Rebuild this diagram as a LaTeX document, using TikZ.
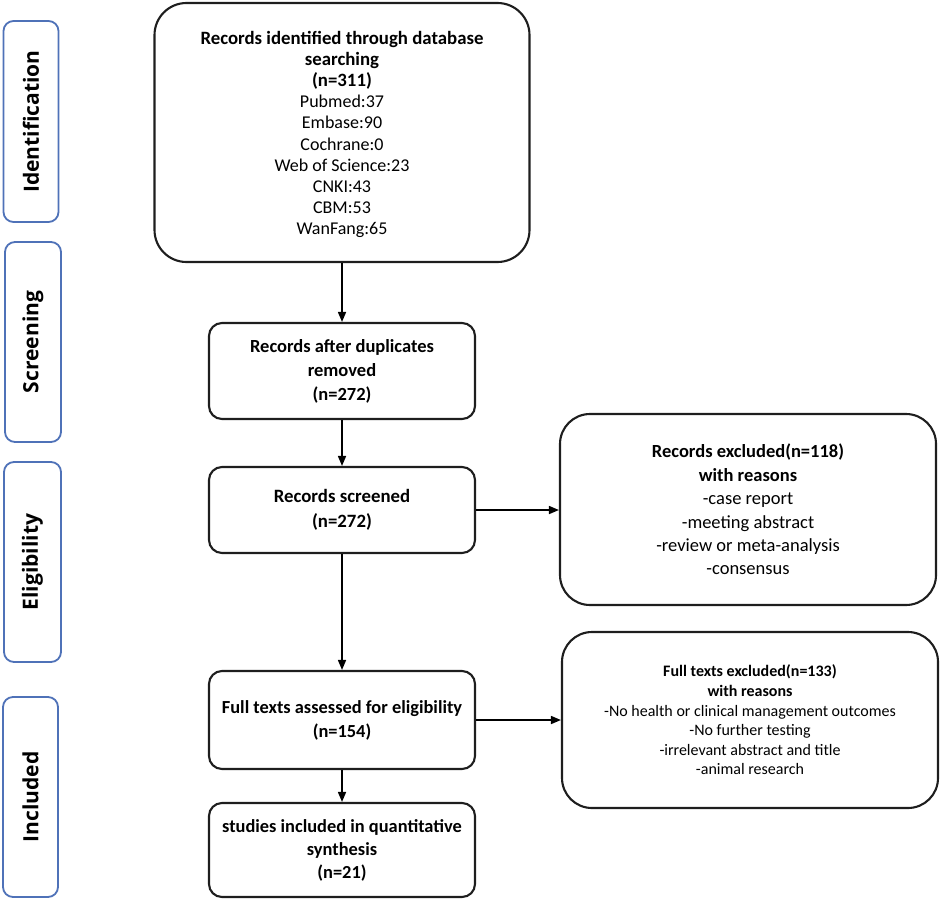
\documentclass[tikz,border=0pt]{standalone}
\usepackage{fontspec}
\setmainfont{Carlito}
\newfontfamily\phasefont{Open Sans}
\usetikzlibrary{arrows.meta}
\definecolor{phaseblue}{HTML}{4F72B8}
\definecolor{boxline}{HTML}{1E1E1E}
\tikzset{
  phasebox/.style={draw=phaseblue, line width=1.8pt, rounded corners=10pt, minimum width=#1, inner sep=0pt},
  phasetext/.style={font={\phasefont\bfseries\fontsize{21}{24}\selectfont}},
  flowbox/.style={draw=boxline, line width=2.1pt, rounded corners=13pt, align=center, inner sep=0pt},
  bigbox/.style={draw=boxline, line width=2.1pt, rounded corners=32pt, align=center, inner sep=0pt},
  conn/.style={draw=black, line width=1.6pt, -{Triangle[length=10pt,width=8pt]}}
}
\newcommand{\bfl}[1]{{\bfseries\fontsize{18.8}{21.1}\selectfont #1}}
\begin{document}
\begin{tikzpicture}[x=1pt,y=-1pt]
\useasboundingbox (0,0) rectangle (941,902);
% phase labels
\node[phasebox=201pt, minimum height=55pt, rotate=90, phasetext] (pid) at (31,121.5) {Identification};
\node[phasebox=200pt, minimum height=56pt, rotate=90, phasetext] (psc) at (33,342) {Screening};
\node[phasebox=200pt, minimum height=57pt, rotate=90, phasetext] (pel) at (32.5,562) {Eligibility};
\node[phasebox=200pt, minimum height=55pt, rotate=90, phasetext] (pin) at (30.5,797) {Included};
% main column
\node[bigbox, minimum width=375pt, minimum height=259pt, font={\fontsize{18}{21.1}\selectfont}] (top) at (342,132.5)
 {\rule{0pt}{17pt}\bfl{Records identified through database}\\ \bfl{searching}\\ \bfl{(n=311)}\\ Pubmed:37\\ Embase:90\\ Cochrane:0\\ Web of Science:23\\ CNKI:43\\ CBM:53\\ WanFang:65};
\node[flowbox, minimum width=266pt, minimum height=96pt, font={\bfseries\fontsize{18.5}{24}\selectfont}] (b2) at (342,371)
 {Records after duplicates\\ removed\\ (n=272)};
\node[flowbox, minimum width=266pt, minimum height=86pt, font={\bfseries\fontsize{18.8}{25}\selectfont}] (b3) at (342,510)
 {Records screened\\ (n=272)};
\node[flowbox, minimum width=266pt, minimum height=98pt, font={\bfseries\fontsize{18.4}{24}\selectfont}] (b4) at (342,720)
 {Full texts assessed for eligibility\\ (n=154)};
\node[flowbox, minimum width=266pt, minimum height=94pt, font={\bfseries\fontsize{18.4}{23}\selectfont}] (b5) at (342,850)
 {studies included in quantitative\\ synthesis\\ (n=21)};
% exclusion boxes
\node[bigbox, rounded corners=30pt, minimum width=376pt, minimum height=191pt, font={\fontsize{18.5}{23.4}\selectfont}] (e1) at (748,509.5)
 {\textbf{Records excluded(n=118)}\\ \textbf{with reasons}\\ -case report\\ -meeting abstract\\ -review or meta-analysis\\ -consensus};
\node[bigbox, rounded corners=30pt, minimum width=376pt, minimum height=176pt, font={\fontsize{16}{19.6}\selectfont}] (e2) at (750,720)
 {\textbf{Full texts excluded(n=133)}\\ \textbf{with reasons}\\ -No health or clinical management outcomes\\ -No further testing\\ -irrelevant abstract and title\\ -animal research};
% connectors
\draw[conn] (top.south) -- (b2.north);
\draw[conn] (b2.south) -- (b3.north);
\draw[conn] (b3.south) -- (b4.north);
\draw[conn] (b4.south) -- (b5.north);
\draw[conn] (b3.east) -- (b3.east -| e1.west);
\draw[conn] (b4.east) -- (b4.east -| e2.west);
\end{tikzpicture}
\end{document}
